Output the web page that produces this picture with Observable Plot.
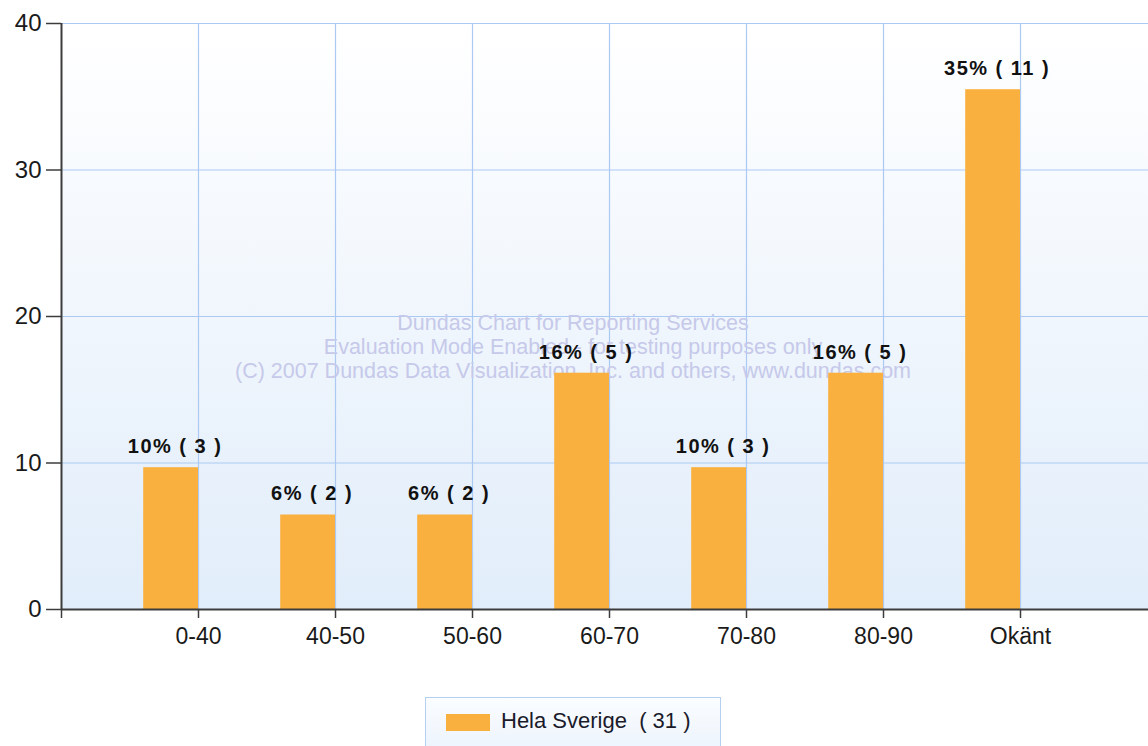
<!DOCTYPE html>
<html>
<head>
<meta charset="utf-8">
<script src="https://cdn.jsdelivr.net/npm/d3@7"></script>
<script src="https://cdn.jsdelivr.net/npm/@observablehq/plot@0.6"></script>
<style>
  html, body { margin: 0; padding: 0; background: #ffffff; overflow: hidden; }
  #wrap { position: relative; width: 1148px; height: 746px; font-family: "Liberation Sans", Arial, sans-serif; }
  #legend {
    position: absolute; left: 425px; top: 697px; width: 294px; height: 60px;
    border: 1px solid #b6cff0; background: linear-gradient(#fbfdff, #eaf2fc);
  }
  #legend .sw { position: absolute; left: 20px; top: 16px; width: 44px; height: 17px; background: #f9b03f; }
  #legend .lb { position: absolute; left: 75px; top: 10px; font-size: 22px; color: #1a1a2a; white-space: pre; }
</style>
</head>
<body>
<div id="wrap">
  <div id="chart"></div>
  <div id="legend"><div class="sw"></div><div class="lb"></div></div>
</div>
<script>
const categories = ["0-40", "40-50", "50-60", "60-70", "70-80", "80-90", "Okänt"];
const counts = [3, 2, 2, 5, 3, 5, 11];
const percents = [9.68, 6.45, 6.45, 16.13, 9.68, 16.13, 35.48];
const yTicks = [0, 10, 20, 30, 40];
const seriesName = "Hela Sverige";
const total = 31;
const watermark = [
  "Dundas Chart for Reporting Services",
  "Evaluation Mode Enabled - for testing purposes only",
  "(C) 2007 Dundas Data Visualization, Inc. and others, www.dundas.com"
];

const data = categories.map((c, i) => ({
  cat: c, pos: i + 1, value: percents[i], count: counts[i],
  label: `${Math.round(percents[i])}% ( ${counts[i]} )`
}));

const gridColor = "#abc9f3";
const axisColor = "#3c3c3c";
const barColor = "#f9b03f";

const plot = Plot.plot({
  width: 1148,
  height: 690,
  marginLeft: 61,
  marginRight: 0,
  marginTop: 23,
  marginBottom: 81,
  style: { fontFamily: "'Liberation Sans', Arial, sans-serif", background: "transparent", overflow: "visible" },
  x: { type: "linear", domain: [0, (1148 - 61) / 137], axis: null, label: null },
  y: { domain: [0, 40], axis: null, label: null },
  marks: [
    Plot.frame({ fill: "#eef4fc", stroke: "none" }),
    Plot.gridY(yTicks.filter(d => d > 0), { stroke: gridColor, strokeOpacity: 1, strokeWidth: 1.2 }),
    Plot.gridX(data.map(d => d.pos), { stroke: gridColor, strokeOpacity: 1, strokeWidth: 1.2 }),
    ...watermark.map((line, i) => Plot.text([line], {
      text: d => d, frameAnchor: "middle",
      dx: -32, dy: 7 + i * 24,
      fill: "#c6c9ea", fontSize: 21.5
    })),
    Plot.rectY(data, { x1: d => d.pos - 0.4, x2: d => d.pos, y: "value", fill: barColor }),
    Plot.text(data, {
      x: d => d.pos - 0.2, y: "value", text: "label",
      dx: 4, dy: -21, fontSize: 20, fontWeight: "bold", fill: "#111111"
    }),
    Plot.axisY(yTicks, {
      anchor: "left", label: null, tickSize: 15, tickPadding: 5, fontSize: 24,
      stroke: axisColor, fill: "#1a1a1a", strokeWidth: 1.5
    }),
    Plot.axisX([0, ...data.map(d => d.pos)], {
      anchor: "bottom", label: null, tickSize: 9, tickPadding: 9, fontSize: 23,
      tickFormat: p => (p >= 1 ? categories[p - 1] : ""),
      stroke: axisColor, fill: "#1a1a1a", strokeWidth: 1.5
    }),
    Plot.ruleX([0], { stroke: axisColor, strokeWidth: 2 }),
    Plot.ruleY([0], { stroke: axisColor, strokeWidth: 2 })
  ]
});

// gradient background for the plot area
const svg = d3.select(plot);
const defs = svg.insert("defs", ":first-child");
const grad = defs.append("linearGradient").attr("id", "bgGrad")
  .attr("x1", 0).attr("y1", 0).attr("x2", 0).attr("y2", 1);
grad.append("stop").attr("offset", "0%").attr("stop-color", "#ffffff");
grad.append("stop").attr("offset", "100%").attr("stop-color", "#e1edfa");
svg.selectAll('[aria-label="frame"]').attr("fill", "url(#bgGrad)");
svg.selectAll('[aria-label="frame"] rect, rect[aria-label="frame"]').attr("fill", "url(#bgGrad)");

// wider letter spacing on the bar value labels
const labelSet = new Set(data.map(d => d.label));
svg.selectAll("text").filter(function () { return labelSet.has(this.textContent); })
  .attr("letter-spacing", 1.5).style("letter-spacing", "1.5px");

document.getElementById("chart").appendChild(plot);
document.querySelector("#legend .lb").textContent = `${seriesName}  ( ${total} )`;
</script>
</body>
</html>
